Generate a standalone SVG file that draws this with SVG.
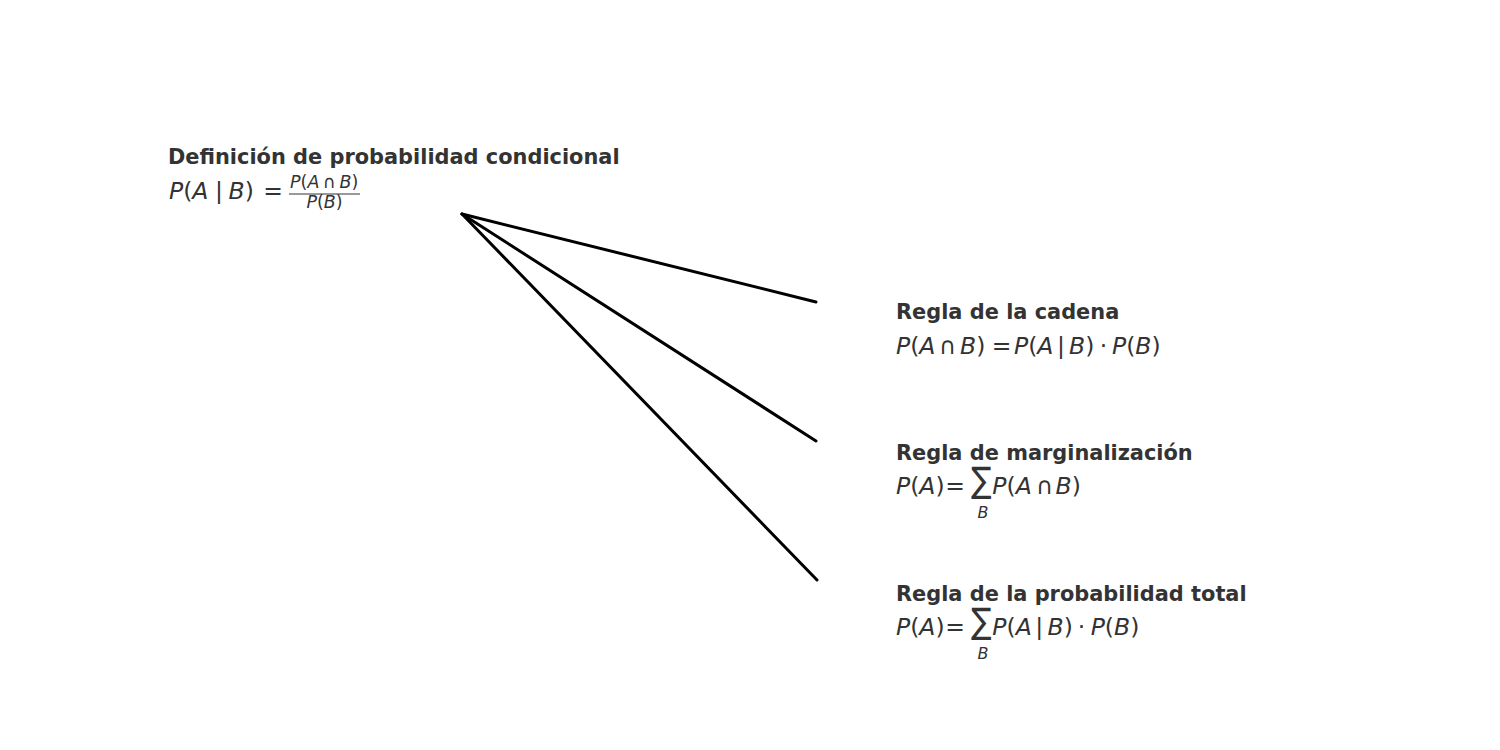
<svg xmlns="http://www.w3.org/2000/svg" width="1500" height="750" viewBox="0 0 1500 750">
<style>
.t{font-family:"DejaVu Sans",sans-serif;font-weight:bold;font-size:20.9px;fill:#333}
.m{font-family:"DejaVu Sans",sans-serif;font-size:23.5px;fill:#333}
.s{font-family:"DejaVu Sans",sans-serif;font-size:17.5px;fill:#333}
.b{font-family:"DejaVu Sans",sans-serif;font-size:16px;font-style:italic;fill:#333;text-anchor:middle}
.g{font-family:"DejaVu Sans",sans-serif;font-size:35px;fill:#333}
.o{text-anchor:middle}
.i{font-style:italic}
.e{stroke:#000;stroke-width:3;fill:none;stroke-linecap:round}
</style>
<rect width="1500" height="750" fill="#fff"/>
<g id="connectors">
<line class="e" x1="462" y1="214" x2="816" y2="302"/>
<line class="e" x1="462" y1="214" x2="816" y2="441"/>
<line class="e" x1="462" y1="214" x2="817" y2="580"/>
</g>
<g id="node-def">
<text class="t" x="168" y="164">Definición de probabilidad condicional</text>
<text class="m" x="169" y="199"><tspan class="i">P</tspan>(<tspan class="i">A</tspan></text>
<text class="m o" x="219" y="199">|</text>
<text class="m" x="228.5" y="199"><tspan class="i">B</tspan>)</text>
<text class="m o" x="273" y="199">=</text>
<text class="s" x="290" y="187.5"><tspan class="i">P</tspan>(<tspan class="i">A</tspan></text>
<text class="s o" x="329.5" y="187.5">∩</text>
<text class="s" x="339.5" y="187.5"><tspan class="i">B</tspan>)</text>
<line x1="289" y1="194" x2="360" y2="194" stroke="#333" stroke-width="1"/>
<text class="s o" x="324.5" y="208"><tspan class="i">P</tspan>(<tspan class="i">B</tspan>)</text>
</g>
<g id="node-cadena">
<text class="t" x="896" y="319">Regla de la cadena</text>
<text class="m" x="896" y="354"><tspan class="i">P</tspan>(<tspan class="i">A</tspan></text>
<text class="m o" x="947.5" y="354">∩</text>
<text class="m" x="960" y="354"><tspan class="i">B</tspan>)</text>
<text class="m o" x="1001.7" y="354">=</text>
<text class="m" x="1014" y="354"><tspan class="i">P</tspan>(<tspan class="i">A</tspan></text>
<text class="m o" x="1061" y="354">|</text>
<text class="m" x="1069" y="354"><tspan class="i">B</tspan>)</text>
<text class="m o" x="1103.5" y="354">·</text>
<text class="m" x="1112" y="354"><tspan class="i">P</tspan>(<tspan class="i">B</tspan>)</text>
</g>
<g id="node-marg">
<text class="t" x="896" y="460">Regla de marginalización</text>
<text class="m" x="896" y="494"><tspan class="i">P</tspan>(<tspan class="i">A</tspan>)</text>
<text class="m o" x="955" y="494">=</text>
<text class="g" transform="translate(971,491.8) scale(0.87,1)">∑</text>
<text class="m" x="992.3" y="494"><tspan class="i">P</tspan>(<tspan class="i">A</tspan></text>
<text class="m o" x="1044.5" y="494">∩</text>
<text class="m" x="1055.6" y="494"><tspan class="i">B</tspan>)</text>
<text class="b" x="983" y="518">B</text>
</g>
<g id="node-total">
<text class="t" x="896" y="601">Regla de la probabilidad total</text>
<text class="m" x="896" y="635"><tspan class="i">P</tspan>(<tspan class="i">A</tspan>)</text>
<text class="m o" x="955" y="635">=</text>
<text class="g" transform="translate(971,632.8) scale(0.87,1)">∑</text>
<text class="m" x="992.3" y="635"><tspan class="i">P</tspan>(<tspan class="i">A</tspan></text>
<text class="m o" x="1039.2" y="635">|</text>
<text class="m" x="1047.6" y="635"><tspan class="i">B</tspan>)</text>
<text class="m o" x="1081.5" y="635">·</text>
<text class="m" x="1090.7" y="635"><tspan class="i">P</tspan>(<tspan class="i">B</tspan>)</text>
<text class="b" x="983" y="659">B</text>
</g>
</svg>
